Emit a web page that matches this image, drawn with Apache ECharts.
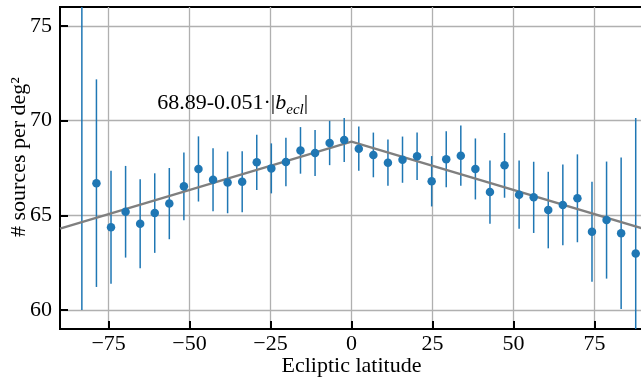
<!DOCTYPE html>
<html>
<head>
<meta charset="utf-8">
<script src="https://cdn.jsdelivr.net/npm/echarts@6/dist/echarts.min.js"></script>
<style>
html,body{margin:0;padding:0;background:#fff;}
#chart{width:641px;height:378px;}
</style>
</head>
<body>
<div id="chart"></div>
<script>
// Bin centres (ecliptic latitude, deg)
var latitude = [-83.25,-78.75,-74.25,-69.75,-65.25,-60.75,-56.25,-51.75,-47.25,-42.75,
  -38.25,-33.75,-29.25,-24.75,-20.25,-15.75,-11.25,-6.75,-2.25,2.25,
  6.75,11.25,15.75,20.25,24.75,29.25,33.75,38.25,42.75,47.25,
  51.75,56.25,60.75,65.25,69.75,74.25,78.75,83.25,87.75];
// # sources per deg^2
var density = [78.6,66.70,64.37,65.19,64.56,65.12,65.62,66.53,67.45,66.88,
  66.74,66.78,67.80,67.48,67.82,68.43,68.29,68.82,68.98,68.52,
  68.19,67.78,67.94,68.12,66.80,67.96,68.15,67.45,66.23,67.64,
  66.09,65.95,65.28,65.55,65.90,64.14,64.75,64.05,62.98];
// symmetric error (half-length of bar)
var densityErr = [18.6,5.48,2.98,2.42,2.35,2.10,1.88,1.79,1.72,1.66,
  1.63,1.61,1.46,1.32,1.28,1.23,1.21,1.17,1.16,1.17,
  1.18,1.22,1.22,1.26,1.33,1.48,1.59,1.61,1.67,1.71,
  1.80,1.88,2.02,2.13,2.32,2.64,3.09,4.0,7.16];
// Fit: 68.89 - 0.051*|b|
var fitIntercept = 68.89;
var fitSlope = 0.051;
var fitX = [-90, 0, 90];
var xTicks = [-75, -50, -25, 0, 25, 50, 75];
var yTicks = [60, 65, 70, 75];
var annotation = {x: -60, y: 70.9};

var FONT = 'Liberation Serif';
var BLUE = '#1f77b4';

var pts = latitude.map(function (b, i) { return [b, density[i]]; });
var bars = latitude.map(function (b, i) { return [b, density[i] - densityErr[i], density[i] + densityErr[i]]; });
var fit = fitX.map(function (b) { return [b, fitIntercept - fitSlope * Math.abs(b)]; });

var chart = echarts.init(document.getElementById('chart'), null, {renderer: 'canvas'});

function fmtMinus(v) { return v < 0 ? '\u2212' + Math.abs(v) : String(v); }

var option = {
  animation: false,
  backgroundColor: '#fff',
  grid: {left: 60, top: 7, right: -2, bottom: 49, containLabel: false, outerBoundsMode: 'none',
    show: true, borderColor: '#000', borderWidth: 2, backgroundColor: 'transparent'},
  xAxis: {
    type: 'value', min: -90, max: 90,
    name: 'Ecliptic latitude', nameLocation: 'middle', nameGap: 26, nameMoveOverlap: false,
    nameTextStyle: {fontFamily: FONT, fontSize: 22, color: '#000'},
    axisLine: {show: true, onZero: false, lineStyle: {color: '#000', width: 2}},
    axisTick: {show: true, inside: true, length: 8, lineStyle: {color: '#000', width: 2}, customValues: xTicks},
    axisLabel: {customValues: xTicks, margin: 4, fontFamily: FONT, fontSize: 22, color: '#000', formatter: fmtMinus},
    splitLine: {show: true, lineStyle: {color: '#b0b0b0', width: 1.3}}
  },
  yAxis: {
    type: 'value', min: 59, max: 76,
    name: '# sources per deg\u00b2', nameLocation: 'middle', nameGap: 30, nameRotate: 90, nameMoveOverlap: false,
    nameTextStyle: {fontFamily: FONT, fontSize: 22, color: '#000', padding: [0, 0, 0, 22]},
    axisLine: {show: true, onZero: false, lineStyle: {color: '#000', width: 2}},
    axisTick: {show: true, inside: true, length: 8, lineStyle: {color: '#000', width: 2}, customValues: yTicks},
    axisLabel: {customValues: yTicks, margin: 8, fontFamily: FONT, fontSize: 22, color: '#000'},
    splitLine: {show: true, lineStyle: {color: '#b0b0b0', width: 1.3}}
  },
  series: [
    {
      type: 'custom', z: 2,
      data: bars,
      renderItem: function (params, api) {
        var x = api.value(0), lo = api.value(1), hi = api.value(2);
        var p1 = api.coord([x, lo]), p2 = api.coord([x, hi]);
        var cs = params.coordSys;
        var top = cs.y, bot = cs.y + cs.height;
        var y1 = Math.min(Math.max(p1[1], top), bot);
        var y2 = Math.min(Math.max(p2[1], top), bot);
        return {type: 'line', shape: {x1: p1[0], y1: y1, x2: p2[0], y2: y2},
          style: {stroke: BLUE, lineWidth: 1.5}};
      }
    },
    {
      type: 'line', z: 3, data: fit, showSymbol: false, symbol: 'none',
      lineStyle: {color: '#7f7f7f', width: 2.2}
    },
    {
      type: 'scatter', z: 4, data: pts, symbolSize: 8.5, clip: true,
      itemStyle: {color: BLUE, opacity: 1}
    }
  ]
};
chart.setOption(option);

var pos = chart.convertToPixel({gridIndex: 0}, [annotation.x, annotation.y]);
chart.setOption({
  graphic: [{
    type: 'text', x: pos[0], y: pos[1], z: 10,
    style: {
      text: '{a|68.89-0.051\u00b7|}{b|b}{s|ecl}{a||}',
      verticalAlign: 'middle', align: 'left',
      rich: {
        a: {fontFamily: FONT, fontSize: 22, lineHeight: 28, verticalAlign: 'middle', fill: '#000'},
        b: {fontFamily: FONT, fontSize: 22, fontStyle: 'italic', lineHeight: 28, verticalAlign: 'middle', fill: '#000'},
        s: {fontFamily: FONT, fontSize: 15, fontStyle: 'italic', lineHeight: 17, verticalAlign: 'bottom', fill: '#000'}
      }
    }
  }]
});
</script>
</body>
</html>
